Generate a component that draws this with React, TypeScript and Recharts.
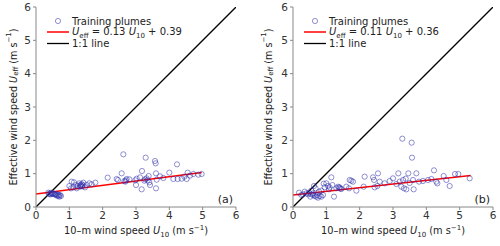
import { ComposedChart, Scatter, Line, XAxis, YAxis, Label } from 'recharts'

const axisTicks = [0, 1, 2, 3, 4, 5, 6]

// panel (a)
const plumesAX = [
  0.37, 0.40, 0.42, 0.45, 0.47, 0.50, 0.52, 0.55, 0.57, 0.60, 0.62, 0.64, 0.67, 0.70, 0.72, 0.75, 0.45, 0.68,
  1.00, 1.05, 1.07, 1.12, 1.14, 1.20, 1.22, 1.25, 1.30, 1.32, 1.33, 1.35, 1.37, 1.38, 1.40, 1.42, 1.47, 1.52, 1.60, 1.67, 1.78,
  2.15, 2.42, 2.46, 2.57, 2.62, 2.65, 2.68, 2.70, 2.72, 2.80, 2.98, 3.00, 3.02, 3.12, 3.17, 3.18, 3.25, 3.27, 3.29, 3.32, 3.35,
  3.38, 3.40, 3.42, 3.57, 3.59, 3.60, 3.60, 3.62, 3.72, 3.82, 4.00, 4.12, 4.23, 4.25, 4.37, 4.45, 4.52, 4.55, 4.62, 4.72, 4.87, 4.97,
]
const plumesAY = [
  0.43, 0.40, 0.38, 0.43, 0.41, 0.40, 0.41, 0.38, 0.39, 0.36, 0.38, 0.33, 0.37, 0.31, 0.36, 0.33, 0.38, 0.34,
  0.63, 0.56, 0.76, 0.59, 0.74, 0.66, 0.56, 0.63, 0.71, 0.61, 0.66, 0.64, 0.69, 0.62, 0.66, 0.73, 0.59, 0.66, 0.71, 0.68, 0.73,
  0.88, 0.84, 0.81, 1.01, 1.58, 0.78, 0.76, 0.80, 0.84, 0.83, 0.80, 0.66, 0.85, 0.89, 0.53, 1.08, 0.79, 0.83, 1.48, 0.86, 0.80,
  0.93, 0.74, 0.66, 1.38, 1.31, 0.56, 1.01, 0.82, 0.92, 0.87, 1.03, 0.84, 1.28, 0.84, 0.85, 0.91, 0.84, 1.03, 0.94, 0.99, 0.97, 0.99,
]

// panel (b)
const plumesBX = [
  0.18, 0.25, 0.30, 0.35, 0.40, 0.45, 0.48, 0.52, 0.55, 0.55, 0.60, 0.60, 0.63, 0.65, 0.68, 0.70, 0.72, 0.75, 0.78, 0.80, 0.85, 0.85, 0.90, 0.92,
  0.95, 1.00, 1.05, 1.08, 1.10, 1.15, 1.18, 1.23, 1.30, 1.35, 1.38, 1.40, 1.42, 1.45, 1.60, 1.68, 1.70, 1.75, 1.80, 1.90,
  2.12, 2.15, 2.40, 2.43, 2.45, 2.53, 2.55, 2.60, 2.75, 2.90, 3.00, 3.10, 3.16, 3.20, 3.25, 3.28, 3.30, 3.33, 3.38, 3.40,
  3.46, 3.50, 3.56, 3.57, 3.60, 3.62, 3.70, 3.78, 3.90, 4.05, 4.15, 4.23, 4.30, 4.33, 4.52, 4.60, 4.70, 4.86, 4.96, 5.30,
]
const plumesBY = [
  0.43, 0.36, 0.38, 0.46, 0.41, 0.38, 0.43, 0.31, 0.38, 0.49, 0.36, 0.41, 0.63, 0.33, 0.56, 0.31, 0.36, 0.28, 0.46, 0.33, 0.31, 0.49, 0.36, 0.70,
  0.59, 0.71, 0.63, 0.53, 0.59, 0.89, 0.66, 0.31, 0.56, 0.61, 0.58, 0.59, 0.55, 0.54, 0.61, 0.56, 0.81, 0.79, 0.76, 0.49,
  0.61, 0.91, 0.89, 0.81, 0.59, 0.63, 1.01, 0.76, 0.71, 0.78, 0.86, 0.69, 1.01, 0.76, 0.61, 2.05, 0.81, 0.56, 0.85, 0.53,
  1.01, 0.72, 1.93, 1.48, 0.81, 0.53, 1.01, 0.76, 0.78, 0.81, 0.84, 1.10, 0.76, 0.71, 0.93, 0.81, 0.63, 0.99, 0.99, 0.86,
]

const fitA = { slope: 0.13, intercept: 0.39, xMax: 4.97, text: '0.13', textB: '0.39' }
const fitB = { slope: 0.11, intercept: 0.36, xMax: 5.33, text: '0.11', textB: '0.36' }
const oneToOne = [{ x: 0, y: 0 }, { x: 6, y: 6 }]

const FONT = 'DejaVu Sans'
const BLUE = '#2a2aa8'

function zip(xs: number[], ys: number[]) {
  return xs.map((x, i) => ({ x, y: ys[i] }))
}

function fitLine(f: typeof fitA) {
  return [
    { x: 0, y: f.intercept },
    { x: f.xMax, y: f.slope * f.xMax + f.intercept },
  ]
}

const Ring = (props: any) => (
  <circle cx={props.cx} cy={props.cy} r={2.6} fill="none" stroke={BLUE} strokeOpacity={0.65} strokeWidth={0.8} />
)

function YLabel({ viewBox, gap }: any) {
  const x = viewBox.x + viewBox.width - gap
  const y = viewBox.y + viewBox.height / 2
  return (
    <text x={x} y={y} transform={`rotate(-90 ${x} ${y})`} textAnchor="middle" dominantBaseline="central"
      fontFamily={FONT} fontSize={9.6} fill="#222">
      Effective wind speed <tspan fontStyle="italic">U</tspan>
      <tspan fontSize={7} dy={3}>eff</tspan>
      <tspan dy={-3}>  (m s</tspan>
      <tspan fontSize={7} dy={-4}>−1</tspan>
      <tspan dy={4}>)</tspan>
    </text>
  )
}

function XLabel({ viewBox }: any) {
  const x = viewBox.x + viewBox.width / 2
  const y = viewBox.y + 27
  return (
    <text x={x} y={y} textAnchor="middle" fontFamily={FONT} fontSize={9.8} fill="#222">
      10–m wind speed <tspan fontStyle="italic">U</tspan>
      <tspan fontSize={7} dy={3}>10</tspan>
      <tspan dy={-3}> (m s</tspan>
      <tspan fontSize={7} dy={-4}>−1</tspan>
      <tspan dy={4}>)</tspan>
    </text>
  )
}

function Panel({ xs, ys, fit, left, right, tag }: any) {
  const tick = { fill: '#333', fontSize: 10.5, fontFamily: FONT }
  const lx = left
  return (
    <ComposedChart width={250} height={246} margin={{ top: 7, right, left: 0, bottom: 0 }}>
      <XAxis type="number" dataKey="x" domain={[0, 6]} ticks={axisTicks} allowDataOverflow height={39}
        stroke="#888" tickSize={3} tick={tick} tickLine={{ stroke: '#888' }}>
        <Label content={(p: any) => <XLabel {...p} />} />
      </XAxis>
      <YAxis type="number" dataKey="y" domain={[0, 6]} ticks={axisTicks} allowDataOverflow width={left}
        stroke="#888" tickSize={3} tick={tick} tickLine={{ stroke: '#888' }}>
        <Label content={(p: any) => <YLabel {...p} gap={left === 36 ? 23 : 25} />} />
      </YAxis>
      <Scatter data={zip(xs, ys)} shape={Ring} isAnimationActive={false} />
      <Line data={oneToOne} dataKey="y" type="linear" stroke="#000" strokeWidth={1.3} dot={false} isAnimationActive={false} />
      <Line data={fitLine(fit)} dataKey="y" type="linear" stroke="#ff0000" strokeWidth={1.5} dot={false} isAnimationActive={false} />
      <g fontFamily={FONT} fontSize={10} fill="#222">
        <circle cx={lx + 22} cy={21} r={2.6} fill="none" stroke={BLUE} strokeOpacity={0.65} strokeWidth={0.8} />
        <text x={lx + 36} y={24.5}>Training plumes</text>
        <line x1={lx + 11} x2={lx + 33} y1={32} y2={32} stroke="#ff0000" strokeWidth={1.5} />
        <text x={lx + 36} y={35}>
          <tspan fontStyle="italic">U</tspan>
          <tspan fontSize={7} dy={2.5}>eff</tspan>
          <tspan dy={-2.5}> = {fit.text} </tspan>
          <tspan fontStyle="italic">U</tspan>
          <tspan fontSize={7} dy={2.5}>10</tspan>
          <tspan dy={-2.5}> + {fit.textB}</tspan>
        </text>
        <line x1={lx + 11} x2={lx + 33} y1={43.5} y2={43.5} stroke="#000" strokeWidth={1.3} />
        <text x={lx + 36} y={47}>1:1 line</text>
        <text x={250 - right - 3} y={203} textAnchor="end" fontSize={11}>{tag}</text>
      </g>
    </ComposedChart>
  )
}

export default function App() {
  return (
    <div style={{ position: 'absolute', left: 0, top: 0, width: 500, height: 246, background: '#fff', display: 'flex' }}>
      <Panel xs={plumesAX} ys={plumesAY} fit={fitA} left={36} right={14} tag="(a)" />
      <Panel xs={plumesBX} ys={plumesBY} fit={fitB} left={43} right={7} tag="(b)" />
    </div>
  )
}
